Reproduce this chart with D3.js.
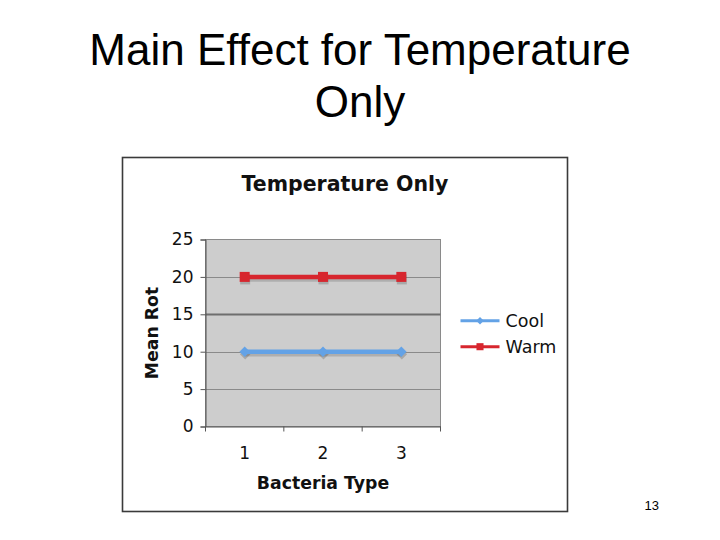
<!DOCTYPE html>
<html><head><meta charset="utf-8">
<script src="https://cdn.jsdelivr.net/npm/d3@7"></script>
<style>body{margin:0;background:#fff}svg{display:block}</style>
</head><body>
<script>
const categories = ["1", "2", "3"];
const coolValues = [10, 10, 10];
const warmValues = [20, 20, 20];
const yTicks = [0, 5, 10, 15, 20, 25];
const seriesNames = ["Cool", "Warm"];

(function () {
const W = 720, H = 540;
const svg = d3.select("body").append("svg").attr("width", W).attr("height", H);

// slide title
const sf = "Liberation Sans, Arial, sans-serif";
svg.append("text").attr("x", 360).attr("y", 65).attr("text-anchor", "middle")
  .attr("font-family", sf).attr("font-size", 44).attr("fill", "#000")
  .text("Main Effect for Temperature");
svg.append("text").attr("x", 360).attr("y", 117).attr("text-anchor", "middle")
  .attr("font-family", sf).attr("font-size", 44).attr("fill", "#000")
  .text("Only");
svg.append("text").attr("x", 659).attr("y", 510).attr("text-anchor", "end")
  .attr("font-family", sf).attr("font-size", 13).attr("fill", "#000")
  .text("13");

// chart frame
svg.append("rect").attr("x", 122.5).attr("y", 157.5).attr("width", 445).attr("height", 354)
  .attr("fill", "#fff").attr("stroke", "#3a3a3a").attr("stroke-width", 1.6);

const font = "DejaVu Sans, Verdana, sans-serif";
svg.append("text").attr("x", 345).attr("y", 191).attr("text-anchor", "middle")
  .attr("font-family", font).attr("font-weight", "bold").attr("font-size", 20.5).attr("fill", "#111")
  .text("Temperature Only");

const pL = 205.5, pR = 440.5, pT = 239.5, pB = 426.5;
const x = d3.scaleBand().domain(categories).range([pL, pR]);
const y = d3.scaleLinear().domain([0, 25]).range([pB, pT]);

svg.append("rect").attr("x", pL).attr("y", pT).attr("width", pR - pL).attr("height", pB - pT)
  .attr("fill", "#cdcdcd").attr("stroke", "#8a8a8a").attr("stroke-width", 1);

// gridlines
svg.append("g").selectAll("line").data(yTicks.filter(d => d > 0 && d < 25)).join("line")
  .attr("x1", pL).attr("x2", pR).attr("y1", d => Math.round(y(d)) + 0.5).attr("y2", d => Math.round(y(d)) + 0.5)
  .attr("stroke", d => d === 15 ? "#6e6e6e" : "#8a8a8a").attr("stroke-width", d => d === 15 ? 2 : 1);

// y axis
const yAxis = svg.append("g").attr("transform", `translate(${pL},0)`)
  .call(d3.axisLeft(y).tickValues(yTicks).tickSize(5).tickPadding(7));
yAxis.select(".domain").attr("stroke", "#555");
yAxis.selectAll(".tick line").attr("stroke", "#555");
yAxis.selectAll("text").attr("font-family", font).attr("font-size", 17).attr("fill", "#111");

// x axis
const xAxis = svg.append("g").attr("transform", `translate(0,${pB})`)
  .call(d3.axisBottom(x).tickSize(0).tickPadding(20));
xAxis.select(".domain").attr("stroke", "#555");
xAxis.selectAll("text").attr("font-family", font).attr("font-size", 17).attr("fill", "#111");
svg.append("g").selectAll("line").data([...categories.map(c => x(c)), pR]).join("line")
  .attr("x1", d => d).attr("x2", d => d).attr("y1", pB).attr("y2", pB + 5)
  .attr("stroke", "#555");

svg.append("text").attr("x", 323).attr("y", 489).attr("text-anchor", "middle")
  .attr("font-family", font).attr("font-weight", "bold").attr("font-size", 17.3).attr("fill", "#111")
  .text("Bacteria Type");
svg.append("text").attr("transform", "translate(157.5,333) rotate(-90)").attr("text-anchor", "middle")
  .attr("font-family", font).attr("font-weight", "bold").attr("font-size", 17.3).attr("fill", "#111")
  .text("Mean Rot");

const cx = c => x(c) + x.bandwidth() / 2;
const series = [
  {name: seriesNames[0], values: coolValues, color: "#63a2e6", shape: "diamond"},
  {name: seriesNames[1], values: warmValues, color: "#d7262e", shape: "square"}
];
const line = d3.line().x((d, i) => cx(categories[i])).y(d => y(d));
const sym = (s, big) => d3.symbol().type(d3.symbolSquare)
  .size(s === "square" ? (big ? 100 : 50) : (big ? 55 : 28))();
const rot = s => s === "square" ? "" : " rotate(45)";

series.forEach(s => {
  svg.append("path").datum(s.values).attr("d", line).attr("fill", "none")
    .attr("stroke", "#000").attr("stroke-opacity", 0.15).attr("stroke-width", 4.5)
    .attr("transform", "translate(0.5,2.5)");
  svg.append("g").selectAll("path").data(s.values).join("path")
    .attr("d", sym(s.shape, true)).attr("fill", "#000").attr("fill-opacity", 0.18)
    .attr("transform", (d, i) => `translate(${cx(categories[i]) + 0.5},${y(d) + 2.5})${rot(s.shape)}`);
  svg.append("path").datum(s.values).attr("d", line).attr("fill", "none")
    .attr("stroke", s.color).attr("stroke-width", 4.5);
  svg.append("g").selectAll("path").data(s.values).join("path")
    .attr("d", sym(s.shape, true)).attr("fill", s.color)
    .attr("transform", (d, i) => `translate(${cx(categories[i])},${y(d)})${rot(s.shape)}`);
});

// legend
series.forEach((s, i) => {
  const ly = 320.7 + i * 26;
  svg.append("line").attr("x1", 460.5).attr("x2", 499.5).attr("y1", ly).attr("y2", ly)
    .attr("stroke", s.color).attr("stroke-width", 3);
  svg.append("path").attr("d", sym(s.shape, false))
    .attr("transform", `translate(480,${ly})${rot(s.shape)}`).attr("fill", s.color);
  svg.append("text").attr("x", 505.5).attr("y", ly + 6.5).attr("font-family", font)
    .attr("font-size", 17.5).attr("fill", "#111").text(s.name);
});
})();
</script>
</body></html>
